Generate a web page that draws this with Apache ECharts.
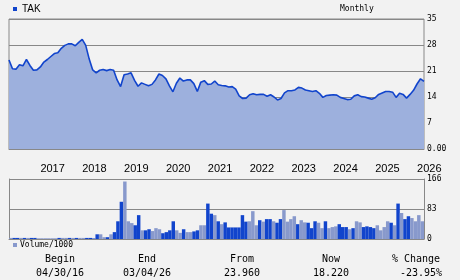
<!DOCTYPE html>
<html><head><meta charset="utf-8">
<script src="https://cdn.jsdelivr.net/npm/echarts@6/dist/echarts.min.js"></script>
<style>html,body{margin:0;padding:0;background:#f2f2f2}#c{width:460px;height:280px}</style>
</head><body><div id="c"></div>
<script>
// ---- data ----
const ticker = 'TAK';
const period = 'Monthly';
const yearLabels = ['2017','2018','2019','2020','2021','2022','2023','2024','2025','2026'];
const priceTicks = [0, 7, 14, 21, 28, 35];
const volumeTicks = [0, 83, 166];
const months = [];
for (let y = 2016, m = 4; months.length < 120; m++) {
  if (m > 12) { m = 1; y++; }
  months.push(y + '-' + String(m).padStart(2, '0'));
}
const price = [
  23.96,21.6,21.5,22.7,22.4,24.1,22.5,21.2,21.3,22.1,
  23.4,24.1,24.9,25.7,25.9,27.1,27.9,28.3,28.3,27.8,
  28.7,29.5,27.9,24.2,21.3,20.5,21.2,21.4,21.1,21.4,
  21.2,18.6,16.8,20.0,20.2,20.5,18.5,16.9,17.8,17.4,
  17.0,17.4,18.6,20.2,19.8,18.9,17.0,15.4,17.7,19.1,
  18.3,18.6,18.6,17.6,15.5,18.0,18.4,17.4,17.5,18.3,
  17.3,17.1,17.0,16.7,16.8,16.1,14.3,13.6,13.7,14.6,
  14.9,14.6,14.7,14.7,14.2,14.6,14.0,13.2,13.6,15.1,
  15.7,15.7,15.9,16.6,16.4,15.9,15.7,15.5,15.7,15.0,
  13.9,14.4,14.5,14.6,14.5,13.9,13.6,13.3,13.4,14.3,
  14.6,14.1,14.0,13.7,13.4,13.8,14.7,15.1,15.5,15.5,
  15.3,13.9,15.0,14.7,13.7,14.7,15.8,17.5,18.9,18.22
];
const volume = [
  3,3,3,3,3,3,3,3,2,2,
  2,2,2,2,3,3,3,3,3,3,
  3,3,3,3,1.5,13,13,5,5,13,
  19,49,103,159,49,44,38,66,24,24,
  27,22,30,27,16,19,24,49,24,17,
  27,19,19,21,24,38,38,98,70,66,
  49,41,46,32,32,32,32,66,48,49,
  77,38,52,48,55,55,49,45,55,80,
  48,55,63,41,52,46,45,30,49,45,
  30,49,30,33,35,41,33,33,27,30,
  49,46,33,35,33,30,38,24,33,49,
  45,38,98,72,55,63,58,49,66,49
];
// 1 = month closed up (light bar), 0 = month closed down (dark bar)
const monthUp = [
  1,0,0,1,0,1,0,0,1,1,
  1,1,1,1,0,1,1,0,1,0,
  1,1,0,0,0,0,1,1,0,1,
  0,0,0,1,1,1,0,0,1,0,
  0,1,1,1,0,0,0,0,1,1,
  0,1,1,0,0,1,1,0,0,1,
  0,1,0,0,0,0,0,0,0,1,
  1,1,0,1,0,0,1,0,0,1,
  1,1,1,0,1,1,0,0,0,1,
  1,0,1,1,1,0,0,0,1,0,
  1,1,0,0,0,0,1,1,1,1,
  0,1,0,1,0,0,1,1,1,1
];
const summaryLabels = ['Begin', 'End', 'From', 'Now', '% Change'];
const summaryValues = ['04/30/16', '03/04/26', '23.960', '18.220', '-23.95%'];

// ---- style ----
const DARK = '#1144cc', LIGHT = '#8899cc', FILL = '#9db0dd', GRIDC = '#888888';
const mono = 'DejaVu Sans Mono';
const sans = 'Liberation Sans';

const chart = echarts.init(document.getElementById('c'), null, {renderer: 'canvas'});
const sumX = [60, 147, 242, 331, 416];
const graphics = [
  {type: 'rect', left: 13, top: 7, shape: {width: 4, height: 4}, style: {fill: DARK}},
  {type: 'text', left: 22, top: 4, style: {text: ticker, font: '10px ' + sans, fill: '#000'}},
  {type: 'text', left: 340, top: 5, style: {text: period, font: '8px ' + mono, fill: '#000'}},
  {type: 'rect', left: 13, top: 243, shape: {width: 4, height: 4}, style: {fill: LIGHT}},
  {type: 'text', left: 20, top: 241, style: {text: 'Volume/1000', font: '8px ' + mono, fill: '#000'}}
];
summaryLabels.forEach((t, k) => {
  graphics.push({type: 'text', x: sumX[k], y: 259, style: {text: t, font: '10px ' + mono, fill: '#000', textAlign: 'center', textVerticalAlign: 'middle'}});
  graphics.push({type: 'text', x: sumX[k] + (k === 4 ? 5 : 0), y: 273, style: {text: summaryValues[k], font: '10px ' + mono, fill: '#000', textAlign: 'center', textVerticalAlign: 'middle'}});
});

const option = {
  animation: false,
  backgroundColor: '#f2f2f2',
  graphic: graphics,
  grid: [
    {left: 9, right: 36, top: 19, height: 130, show: true, borderColor: GRIDC, borderWidth: 1},
    {left: 9, right: 36, top: 179, height: 60, show: false}
  ],
  xAxis: [
    {type: 'category', gridIndex: 0, data: months, boundaryGap: false, z: 5,
     axisLine: {show: true, lineStyle: {color: GRIDC}}, axisTick: {show: false}, splitLine: {show: false},
     axisLabel: {
       margin: 14, align: 'left', color: '#000', fontFamily: sans, fontSize: 11,
       interval: (idx, val) => val.endsWith('-01') && yearLabels.includes(val.slice(0, 4)),
       formatter: val => val.slice(0, 4)
     }},
    {type: 'category', gridIndex: 1, data: months, boundaryGap: true, position: 'top',
     axisLine: {show: true, lineStyle: {color: GRIDC}}, axisTick: {show: false}, axisLabel: {show: false}, splitLine: {show: false}}
  ],
  yAxis: [
    {type: 'value', gridIndex: 0, position: 'right', min: priceTicks[0], max: priceTicks[priceTicks.length - 1], interval: 7,
     axisLine: {show: false}, axisTick: {show: false},
     splitLine: {show: true, lineStyle: {color: GRIDC, width: 1}},
     axisLabel: {margin: 3, color: '#000', fontFamily: mono, fontSize: 8,
       formatter: v => v === 0 ? '0.00' : String(v)}},
    {type: 'value', gridIndex: 1, position: 'right', min: volumeTicks[0], max: volumeTicks[2], interval: 83,
     axisLine: {show: true, lineStyle: {color: GRIDC}}, axisTick: {show: false},
     splitLine: {show: true, lineStyle: {color: GRIDC, width: 1}},
     axisLabel: {margin: 3, color: '#000', fontFamily: mono, fontSize: 8}},
    {type: 'value', gridIndex: 1, position: 'left', min: volumeTicks[0], max: volumeTicks[2],
     axisLine: {show: true, lineStyle: {color: GRIDC}}, axisTick: {show: false},
     splitLine: {show: false}, axisLabel: {show: false}}
  ],
  series: [
    {type: 'line', xAxisIndex: 0, yAxisIndex: 0, data: price, symbol: 'none', smooth: false,
     lineStyle: {color: DARK, width: 1.6}, areaStyle: {color: FILL, opacity: 1}},
    {type: 'bar', xAxisIndex: 1, yAxisIndex: 1, barCategoryGap: '0%',
     data: volume.map((v, i) => ({value: v, itemStyle: {color: monthUp[i] ? LIGHT : DARK}}))}
  ]
};
chart.setOption(option);
</script></body></html>
